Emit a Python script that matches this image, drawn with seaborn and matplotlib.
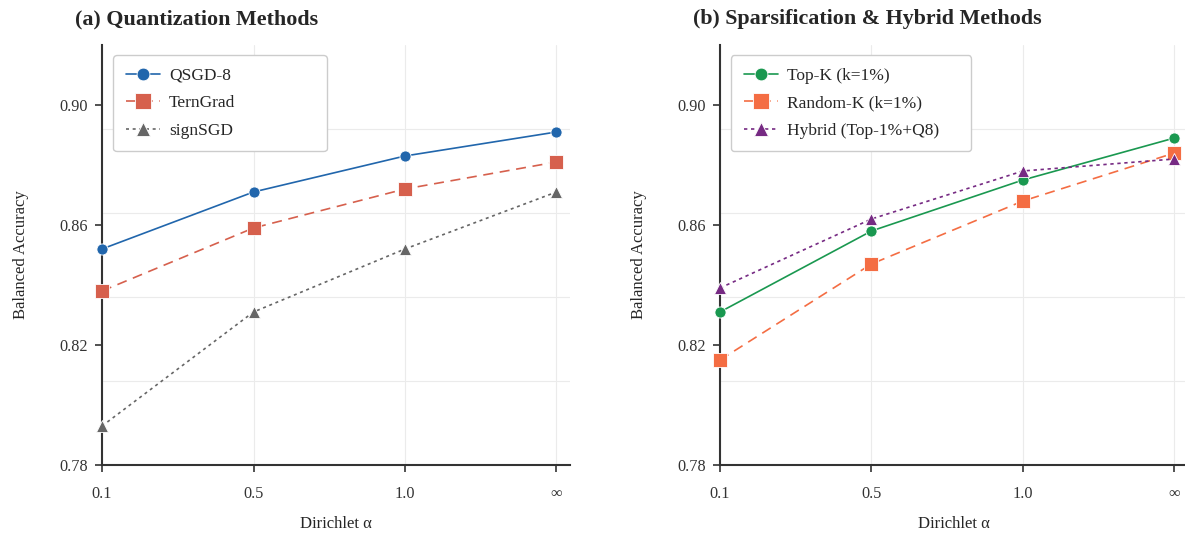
import numpy as np
import pandas as pd
import matplotlib
matplotlib.use("Agg")
import matplotlib.pyplot as plt
import seaborn as sns

alpha_labels = ["0.1", "0.5", "1.0", "∞"]

qsgd8 = [0.852, 0.871, 0.883, 0.891]
terngrad = [0.838, 0.859, 0.872, 0.881]
signsgd = [0.793, 0.831, 0.852, 0.871]

topk = [0.831, 0.858, 0.875, 0.889]
randomk = [0.815, 0.847, 0.868, 0.884]
hybrid = [0.839, 0.862, 0.878, 0.882]

left_names = ["QSGD-8", "TernGrad", "signSGD"]
right_names = ["Top-K (k=1%)", "Random-K (k=1%)", "Hybrid (Top-1%+Q8)"]

sns.set_theme(style="ticks")
plt.rcParams["font.family"] = ["Liberation Serif", "DejaVu Serif"]

fig = plt.figure(figsize=(11.85, 5.38), dpi=100)
ax1 = fig.add_axes([0.0861, 0.1357, 0.395, 0.7807])
ax2 = fig.add_axes([0.6076, 0.1357, 0.395, 0.7807])

styles_left = [
    dict(color="#2166ac", marker="o", ms=8, ls="-"),
    dict(color="#d6604d", marker="s", ms=10, ls=(0, (6, 4))),
    dict(color="#666666", marker="^", ms=9, ls=(0, (1.8, 2.2))),
]
styles_right = [
    dict(color="#1a9850", marker="o", ms=8, ls="-"),
    dict(color="#f46d43", marker="s", ms=10, ls=(0, (6, 4))),
    dict(color="#762a83", marker="^", ms=9, ls=(0, (2, 2.2))),
]

def draw(ax, names, series, styles, title, legend_width):
    x = np.arange(len(alpha_labels))
    for name, vals, st in zip(names, series, styles):
        df = pd.DataFrame({"x": x, "y": vals})
        sns.lineplot(data=df, x="x", y="y", ax=ax, label=name, color=st["color"],
                     marker=st["marker"], markersize=st["ms"], linestyle=st["ls"],
                     linewidth=1.2, markeredgecolor="white", markeredgewidth=0.6,
                     clip_on=False, zorder=3, legend=False)
    ax.set_xlim(0, 3.09)
    ax.set_ylim(0.78, 0.92)
    ax.set_xticks(x)
    ax.set_xticklabels(alpha_labels)
    ax.set_yticks([0.78, 0.82, 0.86, 0.90])
    ax.set_yticklabels(["0.78", "0.82", "0.86", "0.90"])
    ax.set_yticks(np.linspace(0.78, 0.92, 6)[1:-1], minor=True)
    ax.tick_params(axis="y", which="minor", length=0)
    ax.tick_params(axis="both", which="major", length=5, width=1.2, color="#333333",
                   labelsize=11.7, labelcolor="#333333")
    ax.tick_params(axis="x", which="major", pad=10)
    ax.tick_params(axis="y", which="major", pad=5)
    ax.grid(False)
    ax.grid(which="minor", axis="y", color="#ebebeb", linewidth=0.8)
    ax.grid(which="major", axis="x", color="#ebebeb", linewidth=0.8)
    ax.set_axisbelow(True)
    for s in ["top", "right"]:
        ax.spines[s].set_visible(False)
    for s in ["left", "bottom"]:
        ax.spines[s].set_linewidth(1.5)
        ax.spines[s].set_color("#333333")
    ax.set_xlabel("Dirichlet α", fontsize=12, labelpad=10)
    ax.set_ylabel("Balanced Accuracy", fontsize=12, labelpad=22)
    ax.set_title(title, fontsize=15.8, fontweight="bold", loc="left", x=-0.058, pad=15)
    handles = ax.get_lines()[:len(names)]
    leg = ax.legend(handles, names, loc="upper left",
                    bbox_to_anchor=(0.0235, 0.976, legend_width, 0.0),
                    mode="expand", fontsize=12.5, markerscale=1.15,
                    frameon=True, fancybox=True, framealpha=1, edgecolor="#cccccc",
                    handlelength=2.0, labelspacing=0.65, borderpad=0.72,
                    handletextpad=0.5, borderaxespad=0.0)
    leg.get_frame().set_linewidth(1.0)

draw(ax1, left_names, [qsgd8, terngrad, signsgd], styles_left,
     "(a) Quantization Methods", 0.457)
draw(ax2, right_names, [topk, randomk, hybrid], styles_right,
     "(b) Sparsification & Hybrid Methods", 0.513)

fig.savefig("out.png", dpi=100)
